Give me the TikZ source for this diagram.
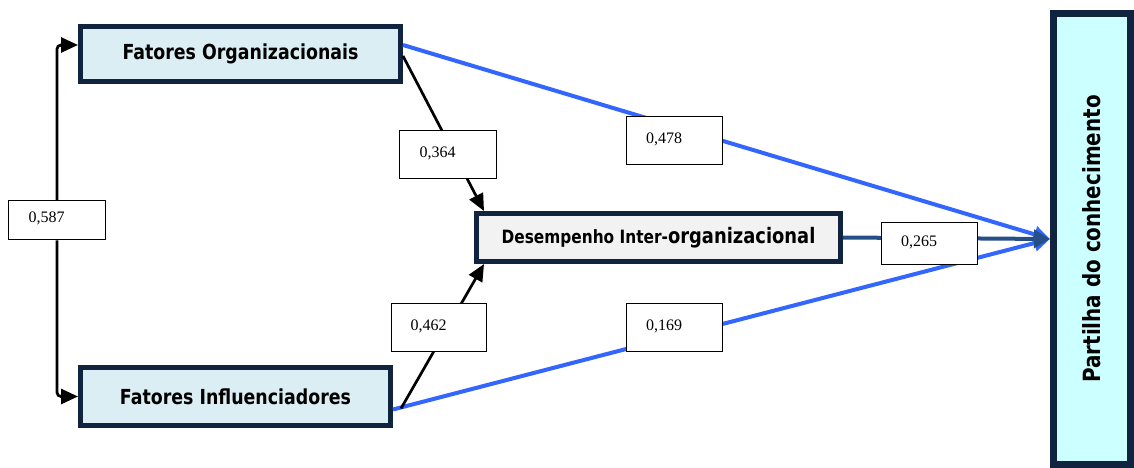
\documentclass[tikz,border=0pt]{standalone}
\usepackage{fontspec}
\usetikzlibrary{arrows.meta}
\newfontfamily\labfont[FakeStretch=0.84]{DejaVu Sans}
\newfontfamily\numfont{Liberation Serif}
\definecolor{navy}{HTML}{10243F}
\definecolor{lblue}{HTML}{DAEEF3}
\definecolor{lgrey}{HTML}{F2F2F2}
\definecolor{lcyan}{HTML}{CCFFFF}
\definecolor{bline}{HTML}{3366FF}
\definecolor{dline}{HTML}{254F86}
\newcommand{\up}[1]{\raisebox{1.5pt}[\height][\depth]{#1}}
\tikzset{
  mainbox/.style={draw=navy, line width=5pt, inner sep=0pt, font=\labfont\bfseries},
  numbox/.style={draw=black, fill=white, line width=1.5pt, inner sep=0pt, font=\numfont\fontsize{16pt}{18pt}\selectfont, align=left, text width=#1},
  blk/.style={draw=black, line width=2.7pt, -{Triangle[length=17pt,width=15pt]}},
  blu/.style={draw=bline, line width=4pt, -{Triangle[length=16pt,width=16pt]}},
  dbl/.style={draw=dline, line width=4pt, -{Triangle[length=16pt,width=18pt]}}
}
\begin{document}
\begin{tikzpicture}[x=1pt,y=-1pt]
\useasboundingbox[fill=white] (0,0) rectangle (1134,468);
\node[mainbox, fill=lblue, minimum width=320pt, minimum height=55pt, font=\labfont\bfseries\fontsize{20.7pt}{24pt}\selectfont] (FO) at (240.5,54) {Fatores Organizacionais};
\node[mainbox, fill=lblue, minimum width=310pt, minimum height=58pt, font=\labfont\bfseries\fontsize{20.7pt}{24pt}\selectfont] (FI) at (235.5,396.5) {Fatores Influenciadores};
\node[mainbox, fill=lgrey, minimum width=364pt, minimum height=48pt] (DI) at (658.5,237.5) {{\fontsize{18.3pt}{20pt}\selectfont Desempenho Inter-}{\fontsize{21.3pt}{24pt}\selectfont organizacional}};
\node[mainbox, fill=lcyan, line width=7pt, minimum width=77pt, minimum height=451pt] (PC) at (1092,239) {};
\node[rotate=90, font=\labfont\bfseries\fontsize{23.7pt}{26pt}\selectfont] (PCt) at (PC.center) {Partilha do conhecimento};

\draw[blu] ([yshift=9pt]FO.east) -- (PC.west);
\draw[blu] ([yshift=-13pt]FI.east) -- (PC.west);
\draw[dbl] (DI.east) -- (PC.west);
\draw[blk] ([yshift=-2pt]FO.east) -- ([xshift=10pt]DI.north west);
\draw[blk] ([shift={(8pt,-12pt)}]FI.east) -- ([xshift=10pt]DI.south west);

\node[numbox=57pt, minimum width=97pt, minimum height=39pt] (L587) at (57,220) {\up{0,587}};
\draw[blk, rounded corners=4pt] (L587.north) |- ([yshift=9pt]FO.west);
\draw[blk, rounded corners=4pt] (L587.south) |- (FI.west);

\node[numbox=57pt, minimum width=97pt, minimum height=48pt] (L364) at (448,154.5) {\up{0,364}};
\node[numbox=57pt, minimum width=96pt, minimum height=48pt] (L478) at (674.5,140.5) {\up{0,478}};
\node[numbox=57pt, minimum width=95pt, minimum height=48pt] (L462) at (439,327.5) {\up{0,462}};
\node[numbox=57pt, minimum width=96pt, minimum height=48pt] (L169) at (674.5,327.5) {\up{0,169}};
\node[numbox=57pt, minimum width=96pt, minimum height=42pt] (L265) at (929.5,243.5) {\up{0,265}};
\end{tikzpicture}
\end{document}
